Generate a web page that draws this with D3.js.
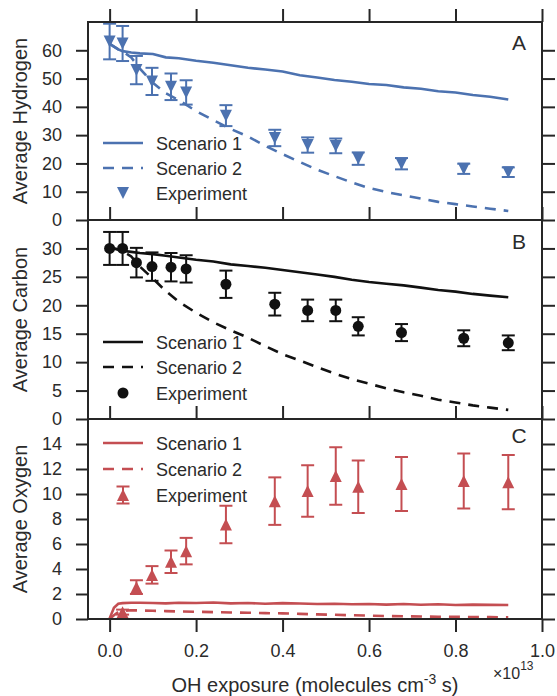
<!DOCTYPE html>
<html>
<head>
<meta charset="utf-8">
<script src="https://cdn.jsdelivr.net/npm/d3@7"></script>
<style>
  body { margin: 0; background: #fff; }
  text { font-family: "Liberation Sans", Arial, sans-serif; fill: #2b2b2b; }
</style>
</head>
<body>
<div id="chart"></div>
<script>
// Experiment exposure points (x 1e13 molecules cm-3 s)
const expX = [0, 0.03, 0.062, 0.098, 0.142, 0.177, 0.269, 0.382, 0.458, 0.523, 0.575, 0.675, 0.819, 0.922];
const hydrogenMean = [63.1, 62.4, 53.0, 49.0, 47.1, 45.1, 36.9, 29.0, 26.5, 26.2, 21.7, 19.9, 18.1, 16.9];
const hydrogenErr  = [6.3, 6.2, 5.0, 4.8, 4.7, 4.3, 3.7, 2.9, 2.7, 2.6, 2.2, 2.0, 1.8, 1.7];
const carbonMean   = [30.0, 30.0, 27.5, 26.8, 26.7, 26.4, 23.7, 20.2, 19.1, 19.1, 16.3, 15.2, 14.2, 13.4];
const carbonErr    = [2.9, 2.9, 2.6, 2.5, 2.5, 2.4, 2.4, 2.0, 1.9, 1.9, 1.6, 1.5, 1.4, 1.3];
const oxygenMean   = [null, 0.55, 2.55, 3.53, 4.58, 5.43, 7.56, 9.43, 10.24, 11.44, 10.58, 10.8, 11.04, 10.95];
const oxygenErr    = [null, 0.2, 0.55, 0.7, 0.9, 1.06, 1.5, 1.9, 2.06, 2.3, 2.1, 2.16, 2.2, 2.17];

// Model exposure grid
const simX = [0, 0.01, 0.02, 0.03, 0.05, 0.07, 0.1, 0.13, 0.16, 0.2, 0.24, 0.28, 0.32, 0.36, 0.4,
              0.44, 0.48, 0.52, 0.56, 0.6, 0.64, 0.68, 0.72, 0.76, 0.8, 0.84, 0.88, 0.922];
const hydrogenS1 = [62.3, 61.3, 60.3, 59.7, 59.2, 58.9, 58.7, 57.5, 57.2, 56.3, 55.6, 54.7, 53.8, 53.2, 52.5,
                    51.2, 50.4, 49.5, 48.9, 48.1, 47.7, 46.9, 46.4, 45.5, 45.1, 44.2, 43.6, 42.6];
const hydrogenS2 = [62.3, 61.3, 60.3, 59.6, 57.5, 53.5, 48.5, 44.8, 42.4, 38.5, 35.3, 32.2, 29.5, 26.2, 23.3,
                    20.5, 17.8, 15.5, 13.3, 11.3, 9.9, 8.7, 7.6, 6.4, 5.6, 4.8, 4.0, 3.2];
const carbonS1 = [30.3, 30.0, 29.8, 29.6, 29.4, 29.2, 29.0, 28.7, 28.4, 28.0, 27.7, 27.2, 26.9, 26.6, 26.2,
                  25.8, 25.4, 25.0, 24.5, 24.1, 23.8, 23.5, 23.1, 22.7, 22.4, 22.0, 21.7, 21.4];
const carbonS2 = [30.3, 30.0, 29.8, 29.5, 28.6, 26.8, 24.7, 22.5, 20.6, 18.7, 17.0, 15.6, 14.3, 12.8, 11.4,
                  10.3, 9.1, 8.0, 7.0, 6.2, 5.4, 4.7, 4.1, 3.4, 2.9, 2.4, 2.0, 1.6];
const oxygenS1 = [0.05, 0.9, 1.22, 1.27, 1.3, 1.3, 1.28, 1.25, 1.3, 1.28, 1.32, 1.25, 1.28, 1.22, 1.27,
                  1.24, 1.2, 1.22, 1.18, 1.2, 1.15, 1.2, 1.14, 1.18, 1.12, 1.15, 1.13, 1.12];
const oxygenS2 = [0.0, 0.3, 0.55, 0.65, 0.7, 0.68, 0.66, 0.63, 0.6, 0.58, 0.55, 0.52, 0.5, 0.47, 0.45,
                  0.41, 0.37, 0.34, 0.3, 0.27, 0.24, 0.22, 0.2, 0.18, 0.17, 0.16, 0.15, 0.14];

const xTicks = [0, 0.2, 0.4, 0.6, 0.8, 1.0];

const panels = [
  { name: "Average Hydrogen", letter: "A", color: "#4C72B0", marker: "down",
    top: 22, bottom: 220, ymax: 70, yTicks: [0, 10, 20, 30, 40, 50, 60],
    s1: hydrogenS1, s2: hydrogenS2, mean: hydrogenMean, err: hydrogenErr,
    letterY: 50, legendY: [143, 168, 193] },
  { name: "Average Carbon", letter: "B", color: "#111111", marker: "circle",
    top: 220, bottom: 419, ymax: 35, yTicks: [0, 5, 10, 15, 20, 25, 30],
    s1: carbonS1, s2: carbonS2, mean: carbonMean, err: carbonErr,
    letterY: 249, legendY: [342, 367, 393] },
  { name: "Average Oxygen", letter: "C", color: "#C44E52", marker: "up",
    top: 419, bottom: 619, ymax: 16, yTicks: [0, 2, 4, 6, 8, 10, 12, 14],
    s1: oxygenS1, s2: oxygenS2, mean: oxygenMean, err: oxygenErr,
    letterY: 443, legendY: [443, 469, 495], legendErr: true }
];

const width = 557, height = 696;
const left = 88, right = 542;
const ink = "#262626";

const svg = d3.select("#chart")
    .append("svg")
    .attr("width", width)
    .attr("height", height);

const x = d3.scaleLinear().domain([-0.05, 1.0]).range([left, right]);

// marker path for each symbol, centred at 0,0
function markerPath(kind) {
    if (kind === "circle") return d3.symbol(d3.symbolCircle, Math.PI * 5.5 * 5.5)();
    const h = 6;
    return kind === "down"
        ? `M${-h},${-h}L${h},${-h}L0,${h}Z`
        : `M${-h},${h}L${h},${h}L0,${-h}Z`;
}

function styleAxis(g) {
    g.select(".domain").remove();
    g.selectAll(".tick line").attr("stroke", ink).attr("stroke-width", 2);
    g.selectAll("text").style("font-size", "18px").attr("fill", "#2b2b2b");
}

panels.forEach((p, i) => {
    const y = d3.scaleLinear().domain([0, p.ymax]).range([p.bottom, p.top]);
    const g = svg.append("g");

    // clip to the panel
    const clipId = "clip" + i;
    svg.append("clipPath").attr("id", clipId)
        .append("rect")
        .attr("x", left).attr("y", p.top)
        .attr("width", right - left).attr("height", p.bottom - p.top);

    const plot = g.append("g").attr("clip-path", `url(#${clipId})`);

    const line = d3.line()
        .x((d, j) => x(simX[j]))
        .y(d => y(d));

    // Scenario 1 (solid) and Scenario 2 (dashed)
    plot.append("path")
        .datum(p.s1)
        .attr("d", line)
        .attr("fill", "none")
        .attr("stroke", p.color)
        .attr("stroke-width", 2.6);

    plot.append("path")
        .datum(p.s2)
        .attr("d", line)
        .attr("fill", "none")
        .attr("stroke", p.color)
        .attr("stroke-width", 2.6)
        .attr("stroke-dasharray", "11,8");

    // Experiment with error bars
    const pts = expX.map((v, j) => ({ x: v, m: p.mean[j], e: p.err[j] }))
        .filter(d => d.m !== null);

    const eb = plot.selectAll(".eb")
        .data(pts)
        .enter()
        .append("g")
        .attr("stroke", p.color)
        .attr("stroke-width", 2);

    eb.append("line")
        .attr("x1", d => x(d.x)).attr("x2", d => x(d.x))
        .attr("y1", d => y(d.m - d.e)).attr("y2", d => y(d.m + d.e));
    eb.append("line")
        .attr("x1", d => x(d.x) - 6.5).attr("x2", d => x(d.x) + 6.5)
        .attr("y1", d => y(d.m + d.e)).attr("y2", d => y(d.m + d.e));
    eb.append("line")
        .attr("x1", d => x(d.x) - 6.5).attr("x2", d => x(d.x) + 6.5)
        .attr("y1", d => y(d.m - d.e)).attr("y2", d => y(d.m - d.e));

    plot.selectAll(".mk")
        .data(pts)
        .enter()
        .append("path")
        .attr("d", markerPath(p.marker))
        .attr("transform", d => `translate(${x(d.x)},${y(d.m)})`)
        .attr("fill", p.color);

    // frame
    g.append("rect")
        .attr("x", left).attr("y", p.top)
        .attr("width", right - left).attr("height", p.bottom - p.top)
        .attr("fill", "none")
        .attr("stroke", ink)
        .attr("stroke-width", 2);

    // axes
    g.append("g")
        .attr("transform", `translate(${left},0)`)
        .call(d3.axisLeft(y).tickValues(p.yTicks).tickSize(12).tickPadding(14))
        .call(styleAxis);

    g.append("g")
        .attr("transform", `translate(${right},0)`)
        .call(d3.axisRight(y).tickValues(p.yTicks).tickSize(13).tickFormat(""))
        .call(styleAxis);

    g.append("g")
        .attr("transform", `translate(0,${p.top})`)
        .call(d3.axisTop(x).tickValues(xTicks).tickSize(13).tickFormat(""))
        .call(styleAxis);

    if (i === panels.length - 1) {
        g.append("g")
            .attr("transform", `translate(0,${p.bottom})`)
            .call(d3.axisBottom(x).tickValues(xTicks).tickSize(13).tickPadding(12)
                .tickFormat(d3.format(".1f")))
            .call(styleAxis);
    }

    // y label
    g.append("text")
        .attr("transform", `translate(27,${(p.top + p.bottom) / 2}) rotate(-90)`)
        .attr("text-anchor", "middle")
        .style("font-size", "20px")
        .text(p.name);

    // panel letter
    g.append("text")
        .attr("x", 519).attr("y", p.letterY)
        .attr("text-anchor", "middle")
        .style("font-size", "21px")
        .text(p.letter);

    // legend
    const lg = g.append("g");
    const labels = ["Scenario 1", "Scenario 2", "Experiment"];
    lg.append("line")
        .attr("x1", 103).attr("x2", 143)
        .attr("y1", p.legendY[0]).attr("y2", p.legendY[0])
        .attr("stroke", p.color).attr("stroke-width", 2.6);
    lg.append("line")
        .attr("x1", 103).attr("x2", 143)
        .attr("y1", p.legendY[1]).attr("y2", p.legendY[1])
        .attr("stroke", p.color).attr("stroke-width", 2.6)
        .attr("stroke-dasharray", "11,8");
    if (p.legendErr) {
        const ly = p.legendY[2];
        lg.append("path")
            .attr("d", `M123,${ly - 8.5}V${ly + 8.5}M116.5,${ly - 8.5}H129.5M116.5,${ly + 8.5}H129.5`)
            .attr("stroke", p.color).attr("stroke-width", 2);
    }
    lg.append("path")
        .attr("d", markerPath(p.marker))
        .attr("transform", `translate(123,${p.legendY[2]})`)
        .attr("fill", p.color);
    labels.forEach((t, k) => {
        lg.append("text")
            .attr("x", 156).attr("y", p.legendY[k] + 6.5)
            .style("font-size", "18px")
            .text(t);
    });
});

// x axis title and offset
svg.append("text")
    .attr("x", (left + right) / 2).attr("y", 692)
    .attr("text-anchor", "middle")
    .style("font-size", "20px")
    .text("OH exposure (molecules cm")
    .append("tspan").attr("dy", -8).style("font-size", "14px").text("-3")
    .select(function () { return this.parentNode; })
    .append("tspan").attr("dy", 8).text(" s)");

svg.append("text")
    .attr("x", 493).attr("y", 679)
    .style("font-size", "16px")
    .text("\u00d710")
    .append("tspan").attr("dy", -9).style("font-size", "12px").text("13");
</script>
</body>
</html>
